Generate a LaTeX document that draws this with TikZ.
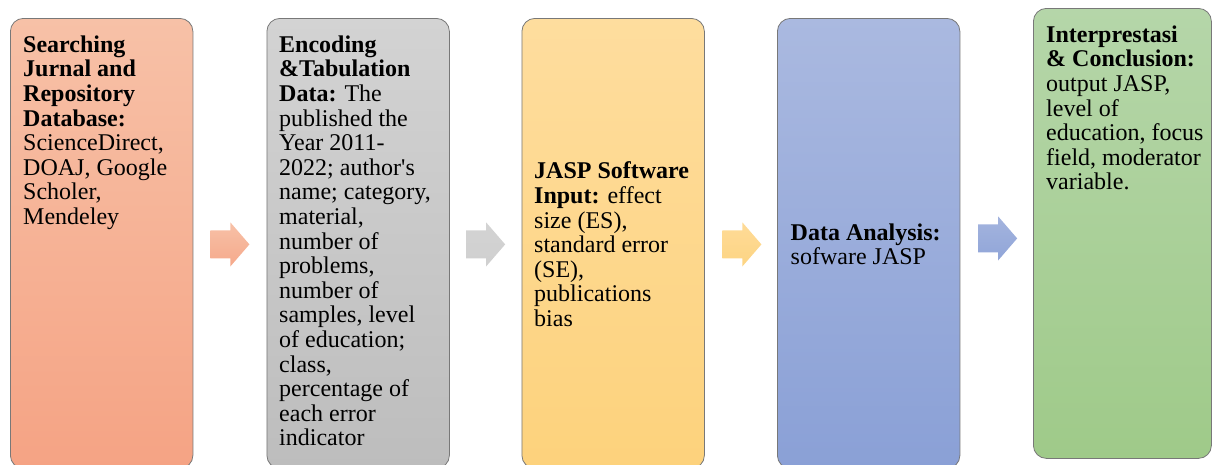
\documentclass[tikz,border=0pt]{standalone}
\usepackage{fontspec}
\setmainfont{Liberation Serif}
\usetikzlibrary{calc}

\definecolor{edgegray}{HTML}{787878}
\definecolor{salmonT}{HTML}{F7C1A7}\definecolor{salmonB}{HTML}{F5A384}
\definecolor{grayT}{HTML}{D3D3D3}\definecolor{grayB}{HTML}{BDBDBD}
\definecolor{goldT}{HTML}{FEDD9E}\definecolor{goldB}{HTML}{FDD27C}
\definecolor{blueT}{HTML}{AAB9E0}\definecolor{blueB}{HTML}{8AA0D6}
\definecolor{greenT}{HTML}{B5D6A9}\definecolor{greenB}{HTML}{9FCA89}

\begin{document}
\begin{tikzpicture}[x=1pt,y=-1pt,
  stage/.style={draw=edgegray, line width=0.8pt, rounded corners=13pt,
    minimum width=182.5pt, minimum height=450pt, inner sep=0pt, anchor=north west},
  stagetext/.style={font=\fontsize{24}{24.6}\selectfont, align=left, inner sep=0pt, text=black},
  flowarrow/.style 2 args={top color=#1, bottom color=#2, draw=none},
]
\useasboundingbox (0,0) rectangle (1212,464);

% stage boxes
\node[stage, top color=salmonT, bottom color=salmonB] (b1) at (10,18) {};
\node[stage, top color=grayT, bottom color=grayB] (b2) at (266.5,18) {};
\node[stage, top color=goldT, bottom color=goldB] (b3) at (521.5,18) {};
\node[stage, top color=blueT, bottom color=blueB] (b4) at (777,18) {};
\node[stage, minimum width=178pt, top color=greenT, bottom color=greenB] (b5) at (1033,8) {};

% stage texts
\node[stagetext, anchor=north west] (t1) at ($(b1.north west)+(13,16.8)$)
  {\strut\textbf{Searching}\\ \textbf{Jurnal and}\\ \textbf{Repository}\\ \textbf{Database:}\\
   ScienceDirect,\\ DOAJ, Google\\ Scholer,\\ Mendeley};
\node[stagetext, anchor=north west] (t2) at ($(b2.north west)+(12.5,16.8)$)
  {\strut\textbf{Encoding}\\ \textbf{\&Tabulation}\\ \textbf{Data:} The\\ published the\\
   Year 2011-\\ 2022; author\textquotesingle s\\ name; category,\\ material,\\ number of\\
   problems,\\ number of\\ samples, level\\ of education;\\ class,\\ percentage of\\
   each error\\ indicator};
\node[stagetext, anchor=west] (t3) at ($(b3.west)+(12.5,1)$)
  {\textbf{JASP Software}\\ \textbf{Input:} effect\\ size (ES),\\ standard error\\ (SE),\\
   publications\\ bias};
\node[stagetext, anchor=west] (t4) at ($(b4.west)+(13.5,1)$)
  {\textbf{Data Analysis:}\\ sofware JASP};
\node[stagetext, anchor=north west] (t5) at ($(b5.north west)+(13,16.8)$)
  {\strut\textbf{Interprestasi}\\ \textbf{\& Conclusion:}\\ output JASP,\\ level of\\
   education, focus\\ field, moderator\\ variable.};

% block arrows between stages
\coordinate (a1) at ($(b1.east)!0.5!(b2.west)+(0,1)$);
\coordinate (a2) at ($(b2.east)!0.5!(b3.west)+(0,1)$);
\coordinate (a3) at ($(b3.east)!0.5!(b4.west)+(1,1)$);
\coordinate (a4) at ($(b4.east)!0.5!(b5.west)+(1,0)$);

\shade[flowarrow={salmonT}{salmonB!80!salmonT}] ($(a1)+(-19.5,-14)$) -- ++(20,0) -- ++(0,-8)
  -- ++(19,22) -- ++(-19,22) -- ++(0,-8) -- ++(-20,0) -- cycle;
\shade[flowarrow={grayT}{grayT!85!grayB}] ($(a2)+(-19.5,-14)$) -- ++(20,0) -- ++(0,-8)
  -- ++(19,22) -- ++(-19,22) -- ++(0,-8) -- ++(-20,0) -- cycle;
\shade[flowarrow={goldT!80!goldB}{goldB!80!goldT}] ($(a3)+(-19.5,-14)$) -- ++(20,0) -- ++(0,-8)
  -- ++(19,22) -- ++(-19,22) -- ++(0,-8) -- ++(-20,0) -- cycle;
\shade[flowarrow={blueT!80!blueB}{blueB!80!blueT}] ($(a4)+(-19.5,-14)$) -- ++(20,0) -- ++(0,-8)
  -- ++(19,22) -- ++(-19,22) -- ++(0,-8) -- ++(-20,0) -- cycle;
\end{tikzpicture}
\end{document}
